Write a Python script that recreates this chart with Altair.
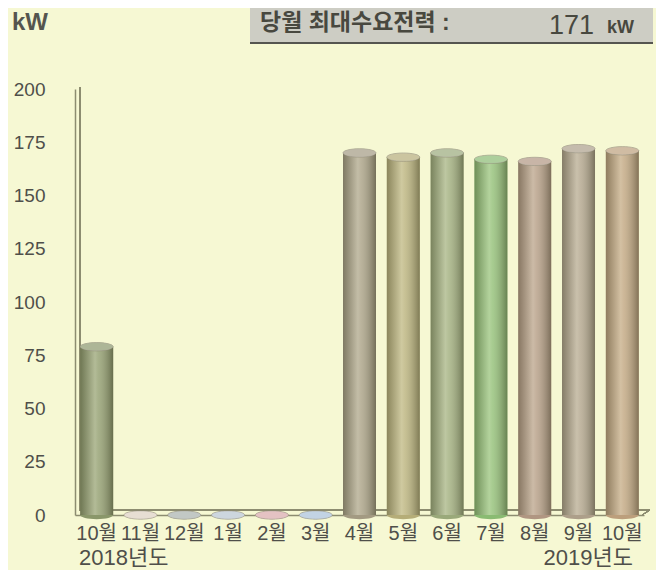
import altair as alt
import pandas as pd

keys = ["2018-10", "2018-11", "2018-12", "2019-01", "2019-02", "2019-03", "2019-04",
        "2019-05", "2019-06", "2019-07", "2019-08", "2019-09", "2019-10"]
month_labels = ["10월", "11월", "12월", "1월", "2월", "3월", "4월", "5월", "6월", "7월", "8월", "9월", "10월"]
values = [79, 0, 0, 0, 0, 0, 170, 168, 170, 167, 166, 172, 171]
palette = ["#8a976a", "#ddd0c0", "#a8b0ac", "#b8c4d0", "#d8a8aa", "#a8c0d8", "#a39a82",
           "#b5ad78", "#9aa97a", "#8abb72", "#b09682", "#ad9f8a", "#bc9f7c"]
y_ticks = [0, 25, 50, 75, 100, 125, 150, 175, 200]
year_labels = ["2018년도", "2019년도"]
title_text = "당월 최대수요전력 :"
current_max = values[-1]
unit = "kW"

df = pd.DataFrame({"key": keys, "label": month_labels, "kw": values, "col": palette,
                   "zero": [0] * len(keys)})

W, H = 569, 426
BG = "#f6f8d3"
FONT = "Liberation Sans, Noto Sans CJK KR"
TXT = "#4f4f4a"

label_expr = "[" + ",".join(f"'{m}'" for m in month_labels) + "][indexof([" + \
    ",".join(f"'{k}'" for k in keys) + "], datum.value)]"

x_enc = alt.X("key:N", sort=keys, title=None,
              scale=alt.Scale(paddingInner=0.25, paddingOuter=0.12),
              axis=alt.Axis(labelExpr=label_expr, labelAngle=0, labelFontSize=20,
                            labelColor=TXT, labelFont=FONT, ticks=False, labelPadding=8,
                            domainColor="#8c8c70", domainWidth=1.5))
y_scale = alt.Scale(domain=[0, 200])
y_axis = alt.Axis(values=y_ticks, labelFontSize=19, labelColor=TXT, labelFont=FONT,
                  ticks=False, grid=False, labelPadding=30,
                  domainColor="#8c8c70", domainWidth=1.5)


def yq(field):
    return alt.Y(f"{field}:Q", scale=y_scale, title=None, axis=y_axis)


col_enc = alt.Color("col:N", scale=None, legend=None)

ellipse = "M-1,0A1,0.25,0,1,1,1,0A1,0.25,0,1,1,-1,0Z"
BAR_W = 33

base = alt.Chart(df)

bottom_cap = base.mark_point(shape=ellipse, size=BAR_W * BAR_W, filled=True, opacity=1).encode(
    x=x_enc, y=yq("zero"), color=col_enc)

bars = base.mark_bar(size=BAR_W).encode(x=x_enc, y=yq("kw"), color=col_enc)

shade = base.mark_bar(size=BAR_W, color=alt.Gradient(
    gradient="linear", x1=0, x2=1, y1=0, y2=0,
    stops=[alt.GradientStop(color="rgba(60,60,40,0.35)", offset=0),
           alt.GradientStop(color="rgba(255,255,235,0.35)", offset=0.45),
           alt.GradientStop(color="rgba(255,255,235,0.25)", offset=0.55),
           alt.GradientStop(color="rgba(60,60,40,0.45)", offset=1)])).encode(
    x=x_enc, y=yq("kw"))

top_cap = base.mark_point(shape=ellipse, size=BAR_W * BAR_W, filled=True, opacity=1,
                          stroke="#8a8470", strokeWidth=0.6).encode(
    x=x_enc, y=yq("kw"), color=col_enc)
top_light = base.mark_point(shape=ellipse, size=BAR_W * BAR_W, filled=True,
                            color="#ffffff", opacity=0.3).encode(
    x=x_enc, y=yq("kw"))

# 3D frame decoration
wall = alt.Chart(df).mark_rule(color="#8c8c70", strokeWidth=1).encode(
    x=alt.value(5), y=alt.value(-2), y2=alt.value(H - 4))
floor = alt.Chart(df).mark_rule(color="#8c8c70", strokeWidth=1).encode(
    x=alt.value(5), x2=alt.value(W + 6), y=alt.value(H - 5))
floor_edge = alt.Chart(df).mark_rule(color="#8c8c70", strokeWidth=1).encode(
    x=alt.value(W - 2), x2=alt.value(W + 6), y=alt.value(H), y2=alt.value(H - 5))

# header
box = alt.Chart(df).mark_rect(color="#cdcdc4").encode(
    x=alt.value(175), x2=alt.value(578), y=alt.value(-81), y2=alt.value(-47))
box_line = alt.Chart(df).mark_rule(color="#555550", strokeWidth=2).encode(
    x=alt.value(175), x2=alt.value(578), y=alt.value(-46))
head = alt.Chart(pd.DataFrame({"t": [title_text]})).mark_text(
    align="left", baseline="middle", fontSize=23, fontWeight="bold", font=FONT, color="#48483f"
).encode(x=alt.value(185), y=alt.value(-66), text="t:N")
num = alt.Chart(pd.DataFrame({"t": [str(current_max)]})).mark_text(
    align="right", baseline="alphabetic", fontSize=27, font=FONT, color="#48483f"
).encode(x=alt.value(519), y=alt.value(-55), text="t:N")
unit_t = alt.Chart(pd.DataFrame({"t": [unit]})).mark_text(
    align="left", baseline="alphabetic", fontSize=18, fontWeight="bold", font=FONT, color="#48483f"
).encode(x=alt.value(532), y=alt.value(-56), text="t:N")
kw_axis = alt.Chart(pd.DataFrame({"t": [unit]})).mark_text(
    align="left", baseline="middle", fontSize=24, fontWeight="bold", font=FONT, color="#55554f"
).encode(x=alt.value(-63), y=alt.value(-66), text="t:N")
yr1 = alt.Chart(pd.DataFrame({"t": [year_labels[0]]})).mark_text(
    align="left", baseline="middle", fontSize=22, font=FONT, color=TXT
).encode(x=alt.value(4), y=alt.value(H + 43), text="t:N")
yr2 = alt.Chart(pd.DataFrame({"t": [year_labels[1]]})).mark_text(
    align="right", baseline="middle", fontSize=22, font=FONT, color=TXT
).encode(x=alt.value(558), y=alt.value(H + 43), text="t:N")

chart = alt.layer(
    wall, floor, floor_edge, bottom_cap, bars, shade, top_cap, top_light,
    box, box_line, head, num, unit_t, kw_axis, yr1, yr2
).properties(
    width=W, height=H,
    autosize=alt.AutoSizeParams(type="none"),
    padding={"left": 67, "top": 81, "right": 12, "bottom": 55},
    background=BG,
).configure_view(stroke=None)

chart.save("out.html", embed_options={"renderer": "svg", "actions": False})
